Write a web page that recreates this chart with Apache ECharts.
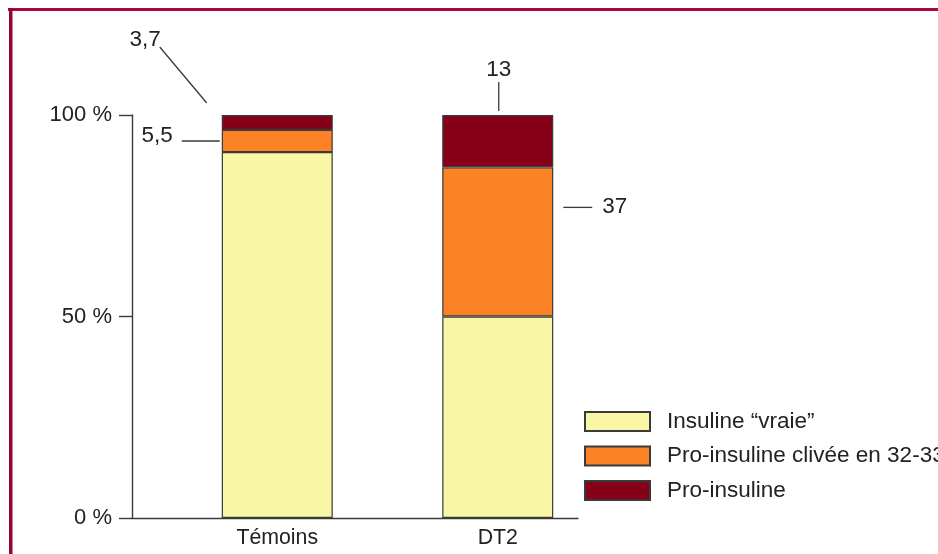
<!DOCTYPE html>
<html>
<head>
<meta charset="utf-8">
<script src="https://cdn.jsdelivr.net/npm/echarts@6/dist/echarts.min.js"></script>
<style>
html,body{margin:0;padding:0;background:#fff;}
#chart{width:938px;height:554px;}
</style>
</head>
<body>
<div id="chart"></div>
<script>
// ---- data ----
const categories = ['Témoins', 'DT2'];
const seriesNames = ['Insuline “vraie”', 'Pro-insuline clivée en 32-33', 'Pro-insuline'];
const insulineVraie = [90.8, 50];
const proInsulineClivee = [5.5, 37];
const proInsuline = [3.7, 13];
const yTickValues = [0, 50, 100];
const colors = ['#F9F7A6', '#FC8226', '#860018'];

const FONT = '"Liberation Sans", Arial, Helvetica, sans-serif';
const TXT = '#222222';
const AX = '#3a3a3a';

const chart = echarts.init(document.getElementById('chart'), null, {renderer: 'canvas'});

const seriesData = [insulineVraie, proInsulineClivee, proInsuline];
const series = seriesData.map((d, i) => ({
  name: seriesNames[i],
  type: 'bar',
  stack: 'total',
  xAxisIndex: 0,
  yAxisIndex: 0,
  barWidth: 111,
  data: d,
  itemStyle: {color: colors[i], borderColor: '#3a3a3a', borderWidth: 1.2},
  emphasis: {disabled: true},
  animation: false
}));

const option = {
  animation: false,
  backgroundColor: '#fff',
  textStyle: {fontFamily: FONT},
  grid: [
    {left: 167, right: 330, top: 115, bottom: 36},
    {left: 132, right: 360, top: 115, bottom: 36}
  ],
  xAxis: [
    {
      type: 'category', gridIndex: 0, data: categories,
      axisLine: {show: false}, axisTick: {show: false},
      axisLabel: {fontSize: 21.3, color: TXT, fontFamily: FONT, margin: 10},
      splitLine: {show: false}
    },
    {
      type: 'value', gridIndex: 1, min: 0, max: 1,
      axisLine: {show: true, lineStyle: {color: AX, width: 1.4}},
      axisTick: {show: false}, axisLabel: {show: false}, splitLine: {show: false}
    }
  ],
  yAxis: [
    {
      type: 'value', gridIndex: 0, min: 0, max: 100, interval: 50,
      show: false, splitLine: {show: false}
    },
    {
      type: 'value', gridIndex: 1, min: yTickValues[0], max: yTickValues[yTickValues.length - 1], interval: yTickValues[1] - yTickValues[0],
      axisLine: {show: true, lineStyle: {color: AX, width: 1.4}},
      axisTick: {show: true, inside: false, length: 13, lineStyle: {color: AX, width: 1.4}},
      axisLabel: {fontSize: 22, color: TXT, fontFamily: FONT, margin: 20, formatter: v => v + ' %'},
      splitLine: {show: false}
    }
  ],
  legend: {
    orient: 'vertical',
    left: 584,
    top: 410,
    padding: 0,
    itemWidth: 65,
    itemHeight: 19,
    itemGap: 11.5,
    icon: 'rect',
    data: seriesNames,
    selectedMode: false,
    textStyle: {fontSize: 22.5, color: TXT, fontFamily: FONT, lineHeight: 21, padding: [0, 0, 0, 12]}
  },
  series: series
};
chart.setOption(option);

// ---- annotations (positions derived from data through the axes) ----
const fmt = v => String(v).replace('.', ',');
const px = (ci, v) => chart.convertToPixel({xAxisIndex: 0, yAxisIndex: 0}, [ci, v]);
const half = 55.5;
const lineStyle = {stroke: '#3a3a3a', lineWidth: 1.3};
const textStyle = (t, x, y, align) => ({type: 'text', style: {text: t, x: x, y: y, fill: TXT, font: '22.5px ' + FONT, align: align, verticalAlign: 'middle'}, silent: true});
const g = [];

// Témoins
{
  const top = px(0, insulineVraie[0] + proInsulineClivee[0] + proInsuline[0]);
  const xL = top[0] - half;
  g.push({type: 'line', shape: {x1: xL - 15, y1: top[1] - 12, x2: xL - 62, y2: top[1] - 68}, style: lineStyle, silent: true});
  g.push(textStyle(fmt(proInsuline[0]), xL - 61, top[1] - 75, 'right'));
  const mid = px(0, insulineVraie[0] + proInsulineClivee[0] / 2);
  g.push({type: 'line', shape: {x1: xL - 40, y1: mid[1], x2: xL - 2, y2: mid[1]}, style: lineStyle, silent: true});
  g.push(textStyle(fmt(proInsulineClivee[0]), xL - 49, mid[1] - 5, 'right'));
}
// DT2
{
  const top = px(1, insulineVraie[1] + proInsulineClivee[1] + proInsuline[1]);
  g.push({type: 'line', shape: {x1: top[0] + 1, y1: top[1] - 33, x2: top[0] + 1, y2: top[1] - 4}, style: lineStyle, silent: true});
  g.push(textStyle(fmt(proInsuline[1]), top[0] + 1, top[1] - 45, 'center'));
  const segTop = px(1, insulineVraie[1] + proInsulineClivee[1]);
  const xR = segTop[0] + half;
  const y = segTop[1] + 40;
  g.push({type: 'line', shape: {x1: xR + 10, y1: y, x2: xR + 39, y2: y}, style: lineStyle, silent: true});
  g.push(textStyle(fmt(proInsulineClivee[1]), xR + 49, y - 1, 'left'));
}
// frame
g.push({type: 'rect', shape: {x: 8, y: 8, width: 940, height: 3}, style: {fill: '#A8093A'}, silent: true});
g.push({type: 'rect', shape: {x: 9, y: 8, width: 3.5, height: 560}, style: {fill: '#9A0530'}, silent: true});

chart.setOption({graphic: g});
</script>
</body>
</html>
